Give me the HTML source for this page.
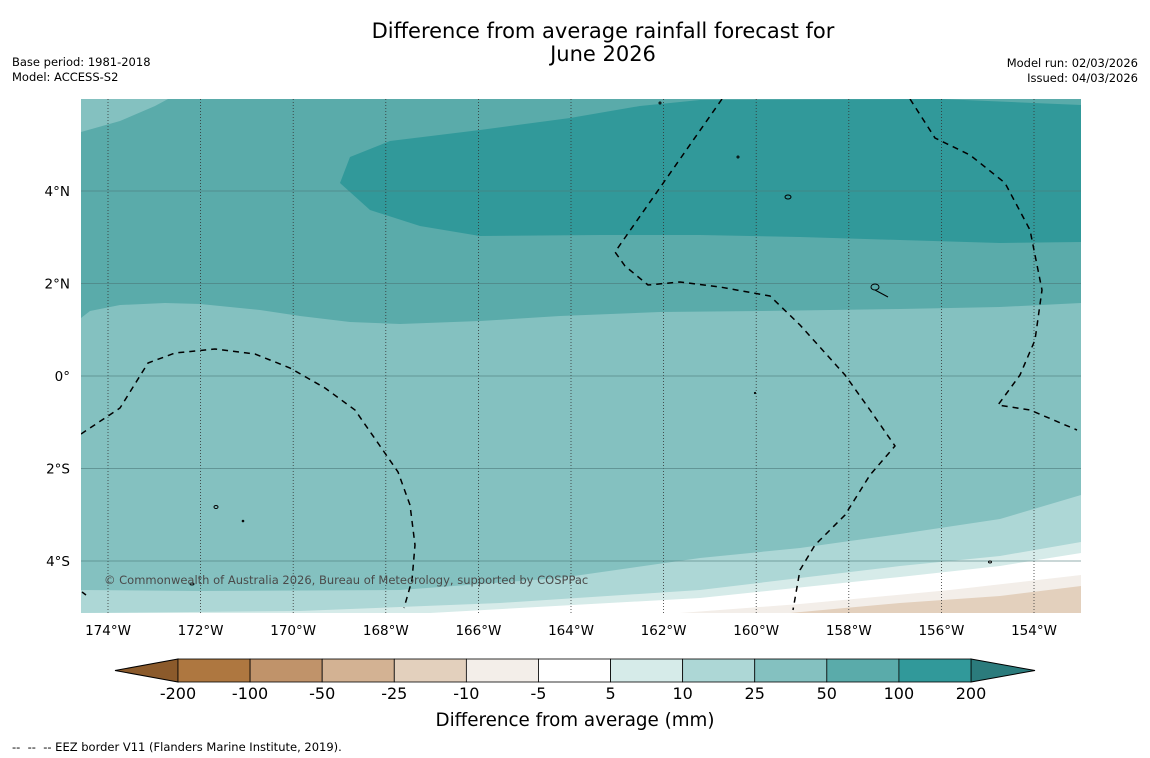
<!DOCTYPE html>
<html><head><meta charset="utf-8"><style>
body{margin:0;background:#fff;font-family:"DejaVu Sans","Liberation Sans",sans-serif}
svg{display:block}
</style></head><body>
<svg width="1150" height="758" viewBox="0 0 1150 758" font-family="DejaVu Sans, Liberation Sans, sans-serif">
<text x="603" y="38" font-size="21" text-anchor="middle">Difference from average rainfall forecast for</text>
<text x="603" y="61" font-size="21" text-anchor="middle">June 2026</text>
<text x="12" y="66" font-size="11.5">Base period: 1981-2018</text>
<text x="12" y="81" font-size="11.5">Model: ACCESS-S2</text>
<text x="1138" y="67" font-size="11.5" text-anchor="end">Model run: 02/03/2026</text>
<text x="1138" y="82" font-size="11.5" text-anchor="end">Issued: 04/03/2026</text>
<defs><clipPath id="mc"><rect x="81" y="99" width="1000" height="514"/></clipPath></defs>
<g clip-path="url(#mc)">
<rect x="81" y="99" width="1000" height="514" fill="#84c1c0"/>
<path d="M81,132 L120,121 L155,106 L168,99 L1081,99 L1081,303 L1000,307 L900,309 L760,311 L660,312 L560,316 L480,321 L400,324 L350,322 L300,316 L260,310 L200,304 L165,303 L120,305 L90,311 L81,318 Z" fill="#5aabaa"/>
<path d="M340,183 L350,157 L390,141 L480,130 L570,118 L640,106 L700,100 L940,99 L1081,105 L1081,242 L1000,243 L900,240 L800,237 L700,235 L600,235 L480,236 L420,226 L370,210 Z" fill="#31999a"/>
<path d="M81,590 L200,591 L400,590 L560,578 L700,558 L800,548 L900,534 L1000,519 L1081,495 L1081,613 L81,613 Z" fill="#add7d6"/>
<path d="M81,613 L300,611 L500,603 L700,590 L900,566 L1000,556 L1081,542 L1081,613 Z" fill="#d6ebe9"/>
<path d="M430,613 L700,598 L900,577 L1000,566 L1081,553 L1081,613 Z" fill="#ffffff"/>
<path d="M680,613 L800,604 L950,590 L1081,575 L1081,613 Z" fill="#f3eee9"/>
<path d="M790,613 L900,603 L1000,596 L1081,586 L1081,613 Z" fill="#e3d0bd"/>
<g id="grid"></g>
<g fill="none" stroke="#000" stroke-width="1.5" stroke-dasharray="6,5">
<path d="M81,434 L120,408 L148,363 L175,353 L215,349 L255,354 L290,368 L325,388 L355,410 L380,446 L398,472 L410,505 L415,545 L412,580 L404,608"/>
<path d="M722,99 L615,252 L625,266 L648,285 L680,282 L720,287 L770,296 L800,325 L845,375 L870,410 L895,446 L870,475 L845,515 L815,545 L800,570 L793,610"/>
<path d="M910,99 L935,138 L970,155 L1005,183 L1030,230 L1042,290 L1035,340 L1020,375 L998,405 L1030,410 L1077,430"/>
<path d="M82,592 L86,595"/>
</g>
<g fill="none" stroke="#000" stroke-width="1">
<ellipse cx="788" cy="197" rx="3" ry="2"/><ellipse cx="875" cy="287" rx="4" ry="3"/><path d="M875,290 L888,297"/>
<ellipse cx="216" cy="507" rx="2" ry="1.5"/><ellipse cx="192" cy="584" rx="2" ry="1"/><ellipse cx="990" cy="562" rx="1.5" ry="1"/>
<circle cx="660" cy="103" r="1"/><circle cx="738" cy="157" r="1"/><circle cx="243" cy="521" r="0.8"/><circle cx="755" cy="393" r="0.6"/>
</g>
<text x="104" y="584" font-size="11.5" fill="#4a4a4a">© Commonwealth of Australia 2026, Bureau of Meteorology, supported by COSPPac</text>
</g>
<g id="axes" font-size="13.5"></g>
<g id="cbar"></g>
<text x="575" y="726" font-size="18.3" text-anchor="middle">Difference from average (mm)</text>
<text x="12" y="751" font-size="11.5" xml:space="preserve">--  --  -- EEZ border V11 (Flanders Marine Institute, 2019).</text>
</svg>
<script>
const lonTicks=[174,172,170,168,166,164,162,160,158,156,154];
const latTicks=[4,2,0,-2,-4];
const cbarLabels=["-200","-100","-50","-25","-10","-5","5","10","25","50","100","200"];
const cbarColors=["#ae7740","#c0936a","#d3b293","#e3d0bd","#f3eee9","#ffffff","#d6ebe9","#add7d6","#84c1c0","#5aabaa","#31999a"];
const NS="http://www.w3.org/2000/svg";
function xLon(w){return 108+(174-w)*46.3;}
function yLat(l){return 376-l*46.25;}
function mk(t,a,p){const e=document.createElementNS(NS,t);for(const k in a)e.setAttribute(k,a[k]);p.appendChild(e);return e;}
const grid=document.getElementById('grid'),axes=document.getElementById('axes'),cb=document.getElementById('cbar');
lonTicks.forEach(w=>{const x=xLon(w);
const l=mk('line',{x1:x,x2:x,y1:99,y2:613,stroke:'#333','stroke-width':0.8,'stroke-dasharray':'1,2'},grid);


const t=mk('text',{x:x,y:635,'text-anchor':'middle'},axes);t.textContent=w+'°W';

});
latTicks.forEach(v=>{const y=yLat(v);
const l=mk('line',{x1:81,x2:1081,y1:y,y2:y,stroke:'#4c7a7a','stroke-width':0.8,opacity:0.8},grid);


const t=mk('text',{x:70,y:y+5,'text-anchor':'end'},axes);t.textContent=v==0?'0°':Math.abs(v)+'°'+(v>0?'N':'S');

});
const x0=178,x1=971,bw=(x1-x0)/cbarColors.length,y0=659,y1=682;
const lt=mk('polygon',{points:`115,670.5 ${x0},${y0} ${x0},${y1}`,fill:'#8b5a2b',stroke:'#000','stroke-width':1},cb);


const rt=mk('polygon',{points:`${x1},${y0} 1035,670.5 ${x1},${y1}`,fill:'#2b7b7c',stroke:'#000','stroke-width':1},cb);


cbarColors.forEach((c,i)=>{const r=mk('rect',{x:x0+i*bw,y:y0,width:bw,height:y1-y0,fill:c,stroke:'#000','stroke-width':0.8},cb);

});
cbarLabels.forEach((s,i)=>{const t=mk('text',{x:x0+i*bw,y:699,'text-anchor':'middle','font-size':16},cb);t.textContent=s;

});
</script>
</body></html>
